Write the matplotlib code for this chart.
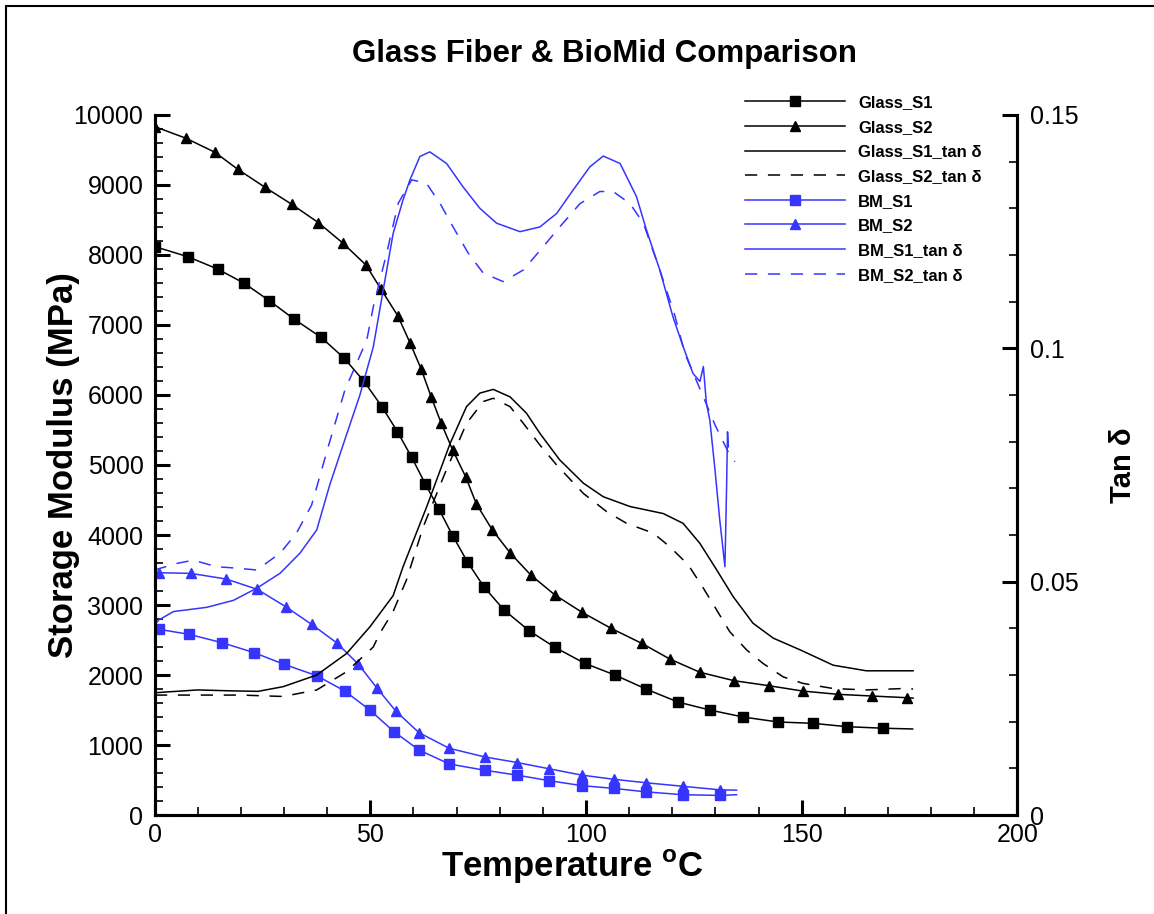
import matplotlib
matplotlib.use("Agg")
import matplotlib.pyplot as plt
from matplotlib.ticker import MultipleLocator, FuncFormatter
from matplotlib.patches import Rectangle

plt.rcParams['font.family'] = ['Liberation Sans', 'DejaVu Sans']
plt.rcParams['mathtext.fontset'] = 'custom'
plt.rcParams['mathtext.bf'] = 'Liberation Sans:bold'
plt.rcParams['mathtext.rm'] = 'Liberation Sans'

# ---- storage modulus (MPa) ----
glass_s1_t = [0.1, 7.7, 14.6, 20.8, 26.6, 32.3, 38.6, 43.9, 48.5, 52.7, 56.3, 59.6, 62.8, 65.9,
              69.1, 72.5, 76.3, 81.0, 86.8, 92.8, 99.7, 106.7, 113.9, 121.3, 128.7, 136.4,
              144.5, 152.6, 160.4, 168.8, 175.7]
glass_s1 = [8119, 7976, 7800, 7596, 7347, 7086, 6824, 6529, 6200, 5833, 5476, 5110, 4724, 4371,
            3990, 3619, 3262, 2929, 2633, 2395, 2167, 2000, 1800, 1614, 1500, 1400,
            1329, 1310, 1262, 1240, 1229]

glass_s2_t = [0.1, 7.3, 14.0, 19.3, 25.6, 31.8, 38.0, 43.7, 49.0, 52.5, 56.4, 59.2, 61.8, 64.1,
              66.4, 69.1, 72.1, 74.6, 78.3, 82.5, 87.2, 92.8, 99.1, 105.8, 112.9, 119.4, 126.4,
              134.3, 142.4, 150.2, 158.4, 166.2, 174.3, 175.8]
glass_s2 = [9833, 9667, 9467, 9224, 8967, 8724, 8461, 8167, 7857, 7510, 7129, 6747, 6371, 5976,
            5604, 5214, 4833, 4443, 4071, 3738, 3429, 3143, 2895, 2667, 2453, 2229, 2039,
            1919, 1847, 1771, 1724, 1700, 1676, 1670]

bm_s1_t = [1.0, 8.0, 15.7, 23.1, 30.0, 37.6, 44.1, 49.9, 55.5, 61.3, 68.3, 76.5, 84.0, 91.5,
           99.0, 106.5, 114.0, 122.5, 131.0, 134.9]
bm_s1 = [2653, 2581, 2461, 2319, 2153, 1990, 1771, 1500, 1190, 929, 729, 640, 570, 490,
         420, 380, 330, 290, 280, 290]

bm_s2_t = [1.0, 8.4, 16.6, 23.8, 30.4, 36.4, 42.2, 47.2, 51.6, 55.9, 61.3, 68.3, 76.5, 84.0,
           91.5, 99.0, 106.5, 114.0, 122.5, 131.0, 134.9]
bm_s2 = [3461, 3452, 3371, 3224, 2976, 2724, 2461, 2157, 1810, 1486, 1176, 953, 830, 750,
         660, 570, 510, 460, 410, 360, 355]

# ---- tan delta ----
glass_s1_tan_t = [0.1, 10.0, 18.0, 24.0, 29.8, 37.6, 44.5, 49.9, 55.3, 57.6, 63.1, 68.5, 72.3,
                  75.4, 78.5, 82.4, 86.2, 89.3, 93.9, 99.4, 104.0, 110.2, 117.9, 122.5, 126.4,
                  130.3, 134.1, 138.7, 143.4, 149.6, 157.3, 165.0, 175.8]
glass_s1_tan = [0.0262, 0.0268, 0.0266, 0.0265, 0.0275, 0.0300, 0.0346, 0.0403, 0.0470, 0.0532,
                0.0661, 0.0796, 0.0875, 0.0904, 0.0912, 0.0896, 0.0861, 0.0818, 0.0761, 0.0711,
                0.0682, 0.0661, 0.0646, 0.0625, 0.0582, 0.0525, 0.0468, 0.0411, 0.0379, 0.0354,
                0.0321, 0.0309, 0.0309]

glass_s2_tan_t = [0.1, 10.0, 20.0, 29.8, 37.6, 44.5, 50.7, 52.2, 55.3, 58.4, 62.3, 67.3, 72.3,
                  76.2, 78.5, 82.4, 85.5, 89.3, 93.2, 99.4, 104.8, 109.4, 115.6, 119.4, 123.7,
                  127.2, 130.3, 133.3, 137.2, 141.0, 145.7, 150.3, 157.3, 165.0, 173.5, 175.8]
glass_s2_tan = [0.0257, 0.0257, 0.0257, 0.0254, 0.0268, 0.0307, 0.0360, 0.0389, 0.0436, 0.0504,
                0.0618, 0.0732, 0.0839, 0.0886, 0.0893, 0.0875, 0.0839, 0.0793, 0.0750, 0.0689,
                0.0650, 0.0625, 0.0604, 0.0575, 0.0536, 0.0486, 0.0439, 0.0393, 0.0354, 0.0325,
                0.0296, 0.0282, 0.0271, 0.0268, 0.0271, 0.0270]

bm_s1_tan_t = [0.0, 1.0, 4.4, 12.1, 18.3, 23.7, 29.1, 33.7, 37.6, 40.6, 44.1, 47.6, 50.7, 53.0,
               55.3, 57.6, 59.2, 61.5, 63.8, 67.7, 71.5, 75.4, 79.3, 84.7, 89.3, 93.2, 97.0,
               100.9, 104.0, 107.9, 111.7, 114.0, 117.1, 120.2, 122.5, 124.8, 126.4, 127.2,
               127.9, 128.7, 129.9, 131.0, 132.2, 132.6, 132.8, 133.0]
bm_s1_tan = [0.0407, 0.0418, 0.0436, 0.0445, 0.0460, 0.0486, 0.0518, 0.0561, 0.0611, 0.0707,
             0.0804, 0.0900, 0.1003, 0.1125, 0.1246, 0.1318, 0.1361, 0.1411, 0.1421, 0.1396,
             0.1346, 0.1300, 0.1268, 0.1250, 0.1260, 0.1289, 0.1339, 0.1389, 0.1412, 0.1396,
             0.1325, 0.1254, 0.1168, 0.1066, 0.1004, 0.0946, 0.0929, 0.0961, 0.0882, 0.0846,
             0.0739, 0.0632, 0.0532, 0.0711, 0.0821, 0.0789]

bm_s2_tan_t = [0.0, 5.1, 9.0, 14.4, 19.0, 23.7, 29.1, 32.9, 36.4, 40.6, 44.1, 49.2, 50.7, 53.8,
               56.5, 59.6, 63.0, 66.2, 69.2, 72.7, 76.2, 80.8, 85.5, 90.1, 93.9, 98.6, 103.2,
               106.3, 110.2, 113.3, 117.1, 120.6, 122.9, 127.2, 129.9, 132.9, 134.5]
bm_s2_tan = [0.0525, 0.0539, 0.0546, 0.0532, 0.0529, 0.0525, 0.0561, 0.0604, 0.0664, 0.0800,
             0.0910, 0.1018, 0.1089, 0.1204, 0.1311, 0.1361, 0.1354, 0.1310, 0.1260, 0.1204,
             0.1161, 0.1143, 0.1168, 0.1218, 0.1260, 0.1310, 0.1336, 0.1336, 0.1310, 0.1268,
             0.1168, 0.1070, 0.0989, 0.0896, 0.0836, 0.0779, 0.0757]

blue = '#3535ff'

fig = plt.figure(figsize=(11.54, 9.14), dpi=100)
ax = fig.add_axes([0.1339, 0.1083, 0.7478, 0.7659])
ax2 = ax.twinx()

lw = 1.1
ms = 7
h1, = ax.plot(glass_s1_t, glass_s1, color='black', lw=lw, marker='s', ms=ms,
              markevery=slice(0, -1), label='Glass_S1')
h2, = ax.plot(glass_s2_t, glass_s2, color='black', lw=lw, marker='^', ms=ms,
              markevery=slice(0, -1), label='Glass_S2')
h5, = ax.plot(bm_s1_t, bm_s1, color=blue, lw=lw, marker='s', ms=ms,
              markevery=slice(0, -1), label='BM_S1')
h6, = ax.plot(bm_s2_t, bm_s2, color=blue, lw=lw, marker='^', ms=ms,
              markevery=slice(0, -1), label='BM_S2')

h3, = ax2.plot(glass_s1_tan_t, glass_s1_tan, color='black', lw=lw, label='Glass_S1_tan δ')
h4, = ax2.plot(glass_s2_tan_t, glass_s2_tan, color='black', lw=lw, ls=(0, (8, 7)),
               label='Glass_S2_tan δ')
h7, = ax2.plot(bm_s1_tan_t, bm_s1_tan, color=blue, lw=lw, label='BM_S1_tan δ')
h8, = ax2.plot(bm_s2_tan_t, bm_s2_tan, color=blue, lw=lw, ls=(0, (8, 7)),
               label='BM_S2_tan δ')

ax.set_xlim(0, 200)
ax.set_ylim(0, 10000)
ax2.set_ylim(0, 0.15)

ax.xaxis.set_major_locator(MultipleLocator(50))
ax.xaxis.set_minor_locator(MultipleLocator(10))
ax.yaxis.set_major_locator(MultipleLocator(1000))
ax.yaxis.set_minor_locator(MultipleLocator(200))
ax2.yaxis.set_major_locator(MultipleLocator(0.05))
ax2.yaxis.set_minor_locator(MultipleLocator(0.01))
ax2.yaxis.set_major_formatter(FuncFormatter(lambda v, p: '%g' % round(v, 3)))

for a in (ax, ax2):
    a.spines['top'].set_visible(False)
    for s in ('left', 'right', 'bottom'):
        a.spines[s].set_linewidth(2.2)
    a.tick_params(which='major', direction='in', length=11, width=2.2, labelsize=18)
    a.tick_params(which='minor', direction='in', length=6, width=1.2)
ax.tick_params(axis='y', pad=8)
ax.tick_params(axis='x', pad=6)
ax2.tick_params(axis='y', pad=9)

ax.set_title('Glass Fiber & BioMid Comparison', fontsize=22.5, fontweight='bold', pad=38, x=0.522)
ax.set_xlabel(r'Temperature $^{\mathbf{o}}$C', fontsize=25, fontweight='bold')
ax.xaxis.set_label_coords(0.484, -0.047)
ax.set_ylabel('Storage Modulus (MPa)', fontsize=25, fontweight='bold', labelpad=-5)
ax2.set_ylabel('Tan δ', fontsize=21, fontweight='bold', labelpad=22)

handles = [h1, h2, h3, h4, h5, h6, h7, h8]
leg = fig.legend(handles=handles, loc='upper left', bbox_to_anchor=(745 / 1154, (914 - 95) / 914),
                 frameon=False, numpoints=1, handlelength=6.0, handletextpad=0.8,
                 labelspacing=0.58, borderpad=0, borderaxespad=0,
                 prop={'weight': 'bold', 'size': 12})
for lh in leg.legend_handles:
    lh.set_markevery([1])

fig.patches.append(Rectangle((6 / 1154, -0.01), 1.1, 1.01 - 6 / 914,
                             transform=fig.transFigure, fill=False, lw=1.5, ec='black'))

fig.savefig('out.png', dpi=100)
